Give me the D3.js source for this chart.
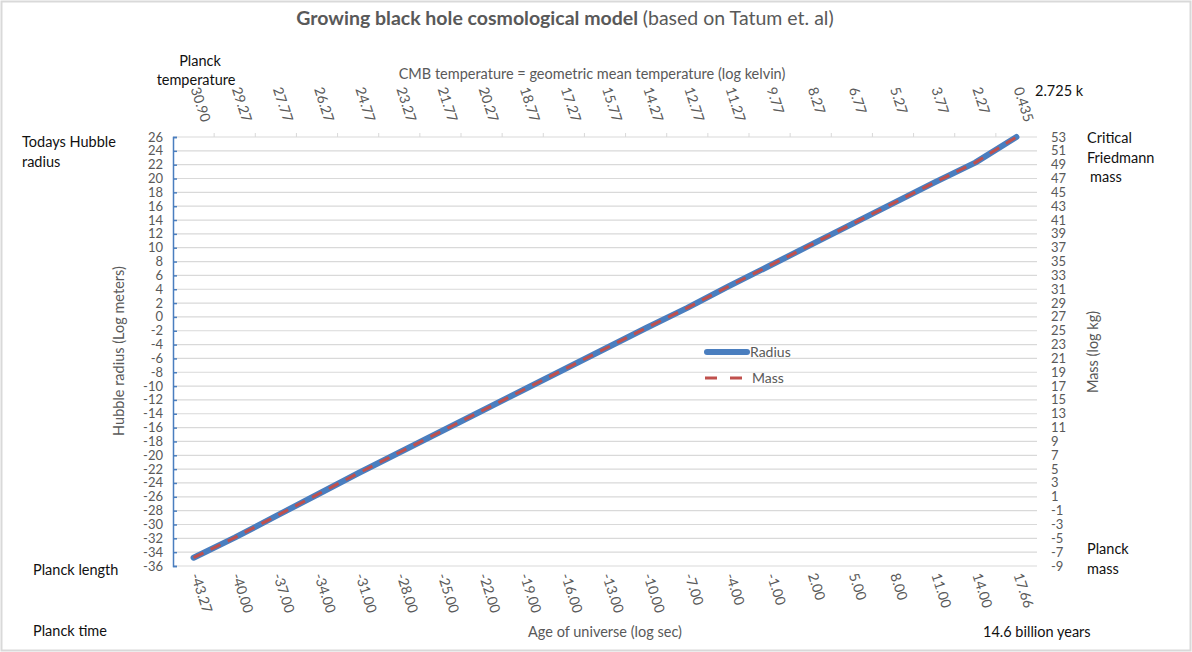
<!DOCTYPE html>
<html>
  <head>
    <meta charset="utf-8">
    <title>growing black hole</title>
    <style>
      body { margin: 0; background: #fff; }
      text { font-family: Lato, "Open Sans", sans-serif; }
    </style>
  </head>
  <body>
    <div class="chart"></div>
    <script src="https://d3js.org/d3.v7.min.js"></script>
    <script>
        var w = 1192, h = 652;

        // categories (age of universe, log sec) and top axis (CMB temperature, log K)
        var ageLabels = ["-43.27", "-40.00", "-37.00", "-34.00", "-31.00", "-28.00", "-25.00",
            "-22.00", "-19.00", "-16.00", "-13.00", "-10.00", "-7.00", "-4.00", "-1.00",
            "2.00", "5.00", "8.00", "11.00", "14.00", "17.66"];
        var tempLabels = ["30.90", "29.27", "27.77", "26.27", "24.77", "23.27", "21.77",
            "20.27", "18.77", "17.27", "15.77", "14.27", "12.77", "11.27", "9.77",
            "8.27", "6.77", "5.27", "3.77", "2.27", "0.435"];

        // series
        var radius = [-34.8, -31.9, -28.8, -25.7, -22.6, -19.6, -16.6, -13.6, -10.6, -7.6,
            -4.6, -1.6, 1.3, 4.4, 7.4, 10.4, 13.4, 16.4, 19.4, 22.3, 26.0];
        var mass = [-7.8, -4.9, -1.8, 1.3, 4.4, 7.4, 10.4, 13.4, 16.4, 19.4,
            22.4, 25.4, 28.3, 31.4, 34.4, 37.4, 40.4, 43.4, 46.4, 49.3, 53.0];

        var pLeft = 173, pRight = 1037, pTop = 137, pBottom = 566;
        var grey = "#595959", blue = "#4a7ebf", red = "#c0504d";

        var svg = d3.select(".chart").append("svg")
            .attr("width", w).attr("height", h);

        // outer frame
        svg.append("rect").attr("x", 1.5).attr("y", 1.5)
            .attr("width", w - 3).attr("height", h - 3)
            .attr("fill", "none").attr("stroke", "#d9d9d9").attr("stroke-width", 2);

        var x = d3.scalePoint().domain(d3.range(ageLabels.length))
            .range([pLeft, pRight]).padding(0.5);
        var band = d3.scaleBand().domain(d3.range(ageLabels.length)).range([pLeft, pRight]);
        var yL = d3.scaleLinear().domain([-36, 26]).range([pBottom, pTop]);
        var yR = d3.scaleLinear().domain([-9, 53]).range([pBottom, pTop]);

        // gridlines
        svg.append("g").selectAll("line")
            .data(d3.range(-36, 27, 2))
            .enter().append("line")
            .attr("x1", pLeft).attr("x2", pRight)
            .attr("y1", function(d) { return yL(d); })
            .attr("y2", function(d) { return yL(d); })
            .attr("stroke", "#d9d9d9").attr("stroke-width", 1.2);

        // top axis tick marks at category boundaries
        svg.append("g").selectAll("line")
            .data(d3.range(1, ageLabels.length))
            .enter().append("line")
            .attr("x1", function(d) { return band(d); })
            .attr("x2", function(d) { return band(d); })
            .attr("y1", pTop - 4).attr("y2", pTop)
            .attr("stroke", "#d9d9d9");

        // left axis (blue)
        var axL = svg.append("g").attr("transform", "translate(" + pLeft + ",0)")
            .call(d3.axisRight(yL).tickValues(d3.range(-36, 27, 2)).tickSize(4).tickFormat(""));
        axL.selectAll("line,path").attr("stroke", blue).attr("stroke-width", 1.5);

        svg.append("g").selectAll("text")
            .data(d3.range(-36, 27, 2))
            .enter().append("text")
            .attr("x", pLeft - 10)
            .attr("y", function(d) { return yL(d) + 4.5; })
            .attr("text-anchor", "end")
            .attr("font-size", 13).attr("fill", grey)
            .text(function(d) { return d; });

        svg.append("g").selectAll("text")
            .data(d3.range(-9, 54, 2))
            .enter().append("text")
            .attr("x", pRight + 14)
            .attr("y", function(d) { return yR(d) + 4.5; })
            .attr("font-size", 13).attr("fill", grey)
            .text(function(d) { return d; });

        // rotated category labels
        svg.append("g").selectAll("text")
            .data(ageLabels)
            .enter().append("text")
            .attr("transform", function(d, i) { return "translate(" + (x(i) - 3) + "," + (pBottom + 9) + ") rotate(72)"; })
            .attr("font-size", 14).attr("fill", grey)
            .text(function(d) { return d; });

        svg.append("g").selectAll("text")
            .data(tempLabels)
            .enter().append("text")
            .attr("transform", function(d, i) { return "translate(" + (x(i) - 3) + ",89) rotate(72)"; })
            .attr("font-size", 14).attr("fill", grey)
            .text(function(d) { return d; });

        // series
        var lineR = d3.line().x(function(d, i) { return x(i); }).y(function(d) { return yL(d); });
        var lineM = d3.line().x(function(d, i) { return x(i); }).y(function(d) { return yR(d); });

        svg.append("path").datum(radius)
            .attr("d", lineR).attr("fill", "none")
            .attr("stroke", blue).attr("stroke-width", 6)
            .attr("stroke-linecap", "round").attr("stroke-linejoin", "round");
        svg.append("path").datum(mass)
            .attr("d", lineM).attr("fill", "none")
            .attr("stroke", red).attr("stroke-width", 3)
            .attr("stroke-dasharray", "11,8");

        // legend
        svg.append("line").attr("x1", 707).attr("x2", 747).attr("y1", 352).attr("y2", 352)
            .attr("stroke", blue).attr("stroke-width", 6).attr("stroke-linecap", "round");
        svg.append("text").attr("x", 750).attr("y", 357).attr("font-size", 14)
            .attr("fill", grey).text("Radius");
        svg.append("line").attr("x1", 705).attr("x2", 745).attr("y1", 378).attr("y2", 378)
            .attr("stroke", red).attr("stroke-width", 3).attr("stroke-dasharray", "12,13");
        svg.append("text").attr("x", 752).attr("y", 383).attr("font-size", 14)
            .attr("fill", grey).text("Mass");

        // title
        var title = svg.append("text").attr("x", 565).attr("y", 25)
            .attr("text-anchor", "middle").attr("font-size", 19.5).attr("fill", grey);
        title.append("tspan").attr("font-weight", "bold").text("Growing black hole cosmological model ");
        title.append("tspan").text("(based on Tatum et. al)");

        // axis titles
        svg.append("text").attr("x", 592).attr("y", 79).attr("text-anchor", "middle")
            .attr("font-size", 14.5).attr("fill", grey)
            .text("CMB temperature  = geometric  mean temperature  (log kelvin)");
        svg.append("text").attr("x", 605).attr("y", 637).attr("text-anchor", "middle")
            .attr("font-size", 14.5).attr("fill", grey)
            .text("Age of universe  (log sec)");
        svg.append("text").attr("transform", "translate(124,351) rotate(-90)")
            .attr("text-anchor", "middle").attr("font-size", 14.5).attr("fill", grey)
            .text("Hubble  radius  (Log meters)");
        svg.append("text").attr("transform", "translate(1098,352) rotate(-90)")
            .attr("text-anchor", "middle").attr("font-size", 14.5).attr("fill", grey)
            .text("Mass (log kg)");

        // annotations
        var notes = [
            { x: 200, y: 66, a: "middle", t: "Planck" },
            { x: 196, y: 85, a: "middle", t: "temperature" },
            { x: 1035, y: 96, a: "start", t: "2.725 k" },
            { x: 22, y: 147, a: "start", t: "Todays Hubble" },
            { x: 22, y: 167, a: "start", t: "radius" },
            { x: 33, y: 575, a: "start", t: "Planck length" },
            { x: 33, y: 636, a: "start", t: "Planck time" },
            { x: 983, y: 637, a: "start", t: "14.6 billion years" },
            { x: 1087, y: 143, a: "start", t: "Critical" },
            { x: 1087, y: 163, a: "start", t: "Friedmann" },
            { x: 1090, y: 182, a: "start", t: "mass" },
            { x: 1087, y: 554, a: "start", t: "Planck" },
            { x: 1087, y: 574, a: "start", t: "mass" }
        ];
        svg.append("g").selectAll("text")
            .data(notes)
            .enter().append("text")
            .attr("x", function(d) { return d.x; })
            .attr("y", function(d) { return d.y; })
            .attr("text-anchor", function(d) { return d.a; })
            .attr("font-size", 14.5).attr("fill", "#111")
            .text(function(d) { return d.t; });
    </script>
  </body>
</html>
